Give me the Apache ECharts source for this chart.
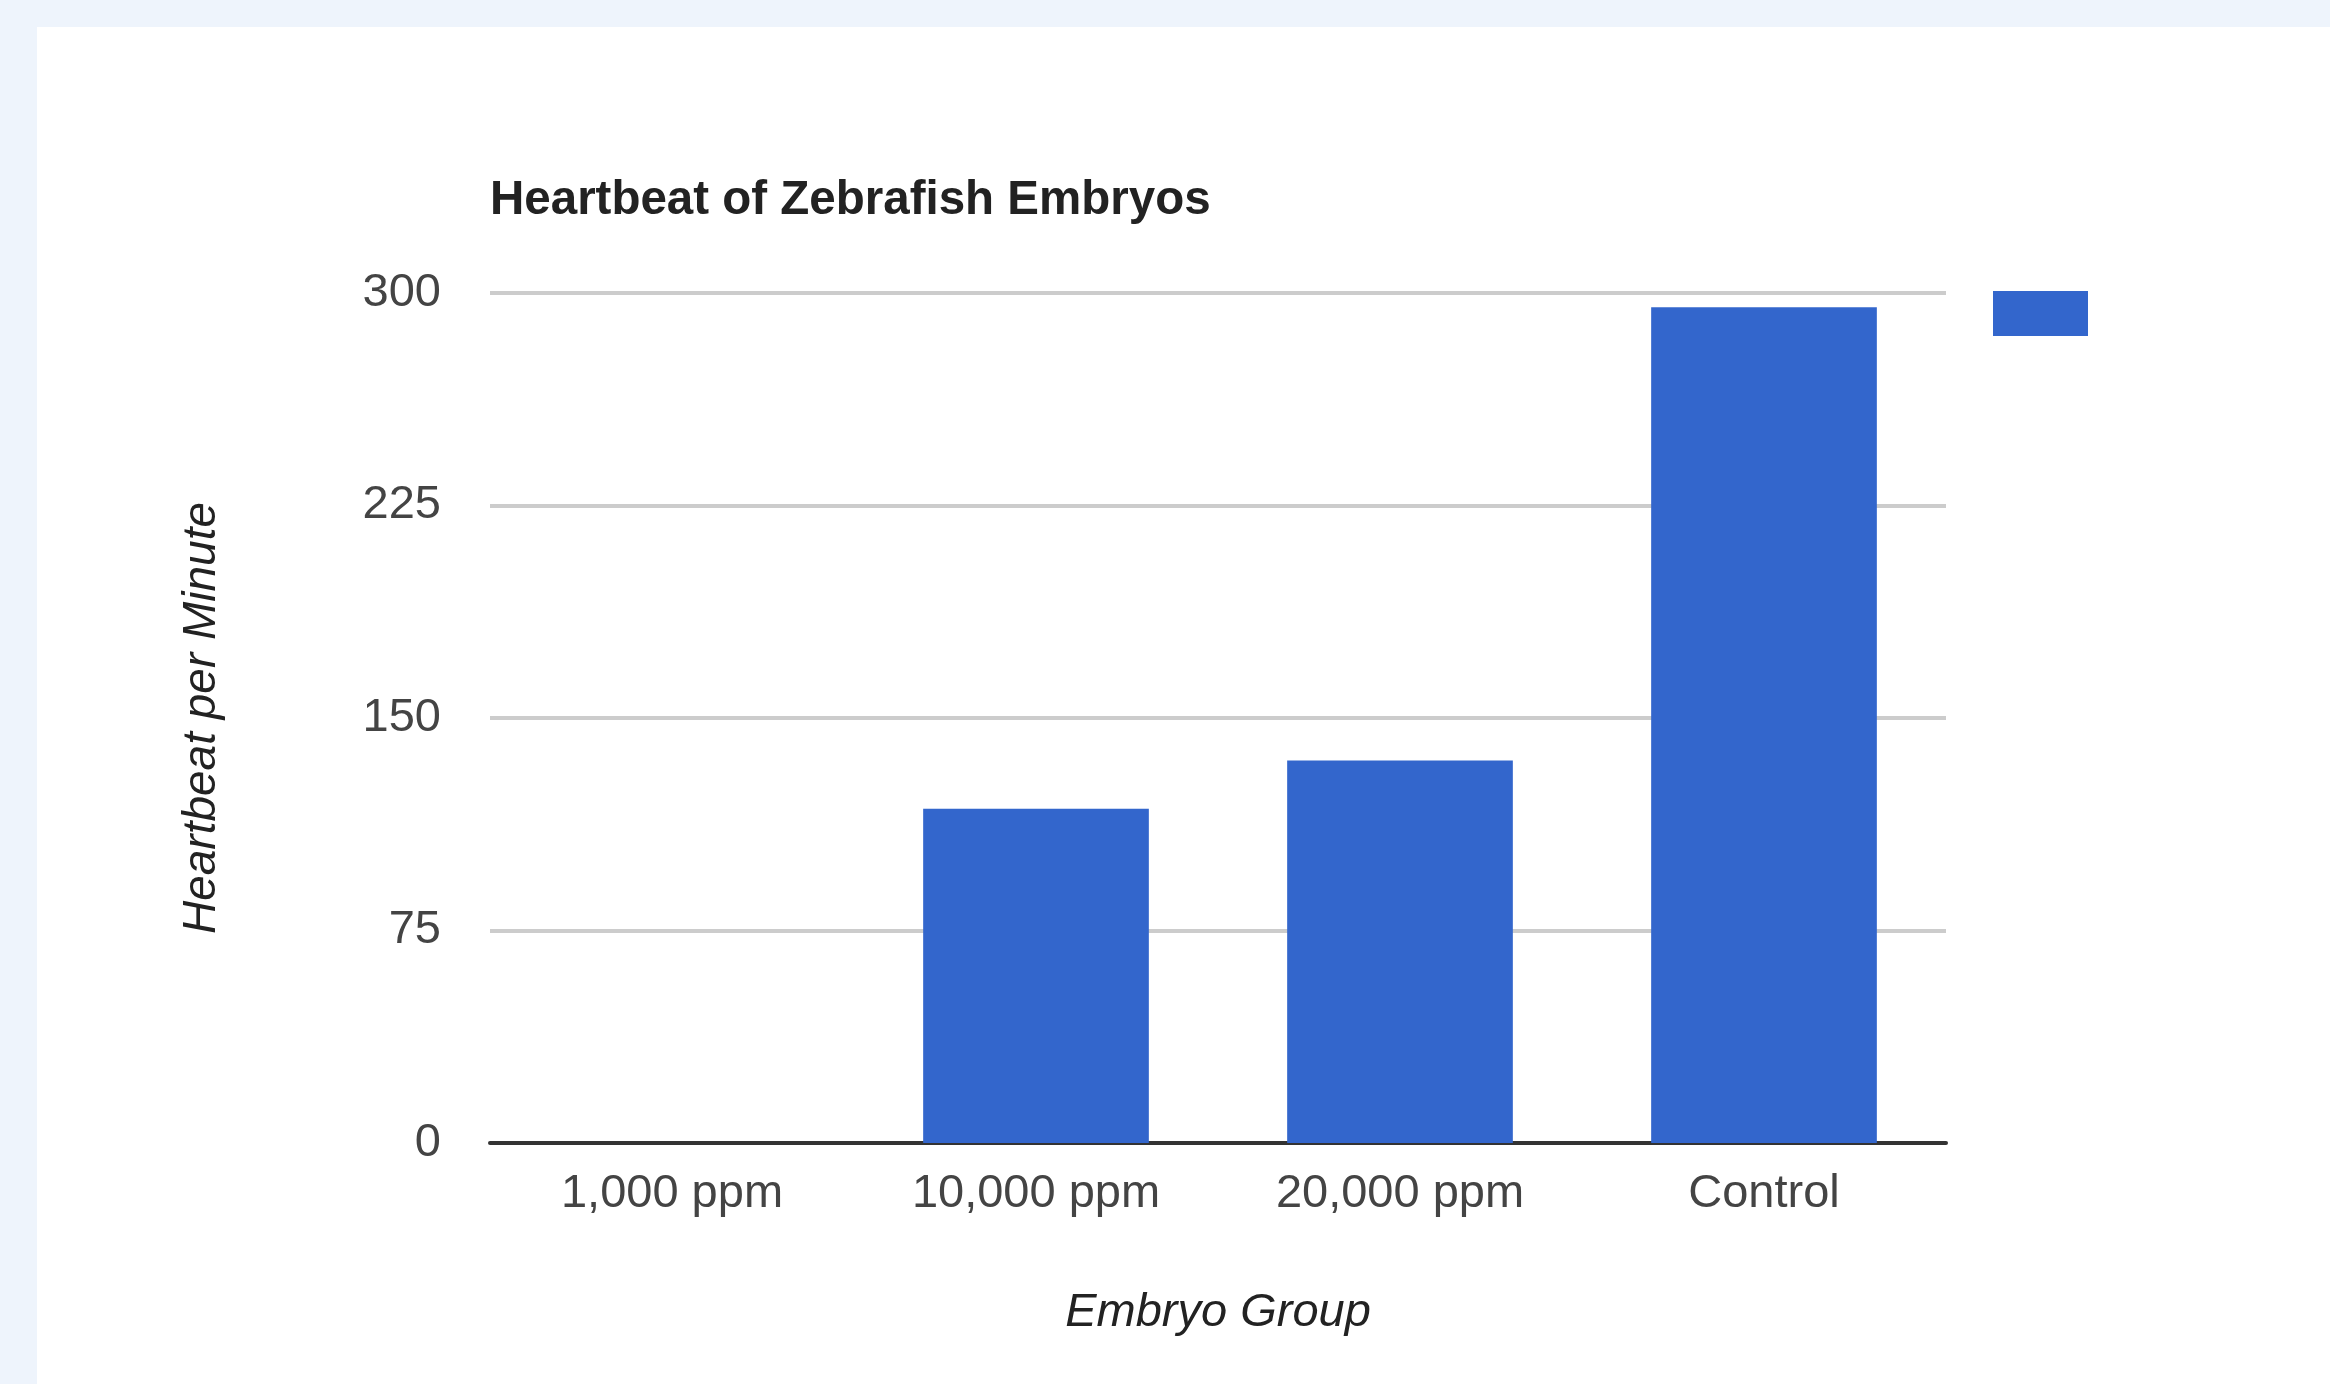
<!DOCTYPE html>
<html>
<head>
<meta charset="utf-8">
<title>Heartbeat of Zebrafish Embryos</title>
<script src="https://cdn.jsdelivr.net/npm/echarts@6/dist/echarts.min.js"></script>
<style>
  html, body { margin: 0; padding: 0; background: #eef4fc; }
  #main { width: 2330px; height: 1384px; }
</style>
</head>
<body>
<div id="main"></div>
<script>
var groups = ['1,000 ppm', '10,000 ppm', '20,000 ppm', 'Control'];
var heartbeat = [0, 118, 135, 295];
var yTicks = [0, 75, 150, 225, 300];

var font = 'Arial, "Liberation Sans", sans-serif';
var myChart = echarts.init(document.getElementById('main'));

myChart.setOption({
  backgroundColor: '#eef4fc',
  animation: false,
  graphic: [{
    type: 'rect',
    z: -10,
    shape: { x: 37, y: 27, width: 2293, height: 1357 },
    style: { fill: '#ffffff' }
  }],
  title: {
    text: 'Heartbeat of Zebrafish Embryos',
    left: 485,
    top: 172,
    textStyle: { fontFamily: font, fontSize: 47.5, fontWeight: 'bold', color: '#222' }
  },
  legend: {
    left: 1993,
    top: 291,
    padding: 0,
    icon: 'rect',
    itemWidth: 95,
    itemHeight: 45,
    formatter: function () { return ''; },
    data: ['Heartbeat']
  },
  grid: { left: 490, right: 384, top: 293, bottom: 241, containLabel: false },
  xAxis: {
    type: 'category',
    data: groups,
    name: 'Embryo Group',
    nameLocation: 'middle',
    nameGap: 146,
    nameTextStyle: { fontFamily: font, fontSize: 47, fontStyle: 'italic', color: '#222' },
    axisLine: { lineStyle: { color: '#333', width: 4 } },
    axisTick: { show: false },
    axisLabel: { fontFamily: font, fontSize: 47, color: '#444', margin: 28 }
  },
  yAxis: {
    type: 'value',
    min: yTicks[0],
    max: yTicks[yTicks.length - 1],
    interval: 75,
    name: 'Heartbeat per Minute',
    nameLocation: 'middle',
    nameGap: 265,
    nameTextStyle: { fontFamily: font, fontSize: 46, fontStyle: 'italic', color: '#222' },
    axisLine: { show: false },
    axisTick: { show: false },
    splitLine: { lineStyle: { color: '#cccccc', width: 4 } },
    axisLabel: { fontFamily: font, fontSize: 47, color: '#444', margin: 49 }
  },
  series: [{
    name: 'Heartbeat',
    type: 'bar',
    data: heartbeat,
    barCategoryGap: '38%',
    itemStyle: { color: '#3366cc' }
  }]
});
</script>
</body>
</html>
